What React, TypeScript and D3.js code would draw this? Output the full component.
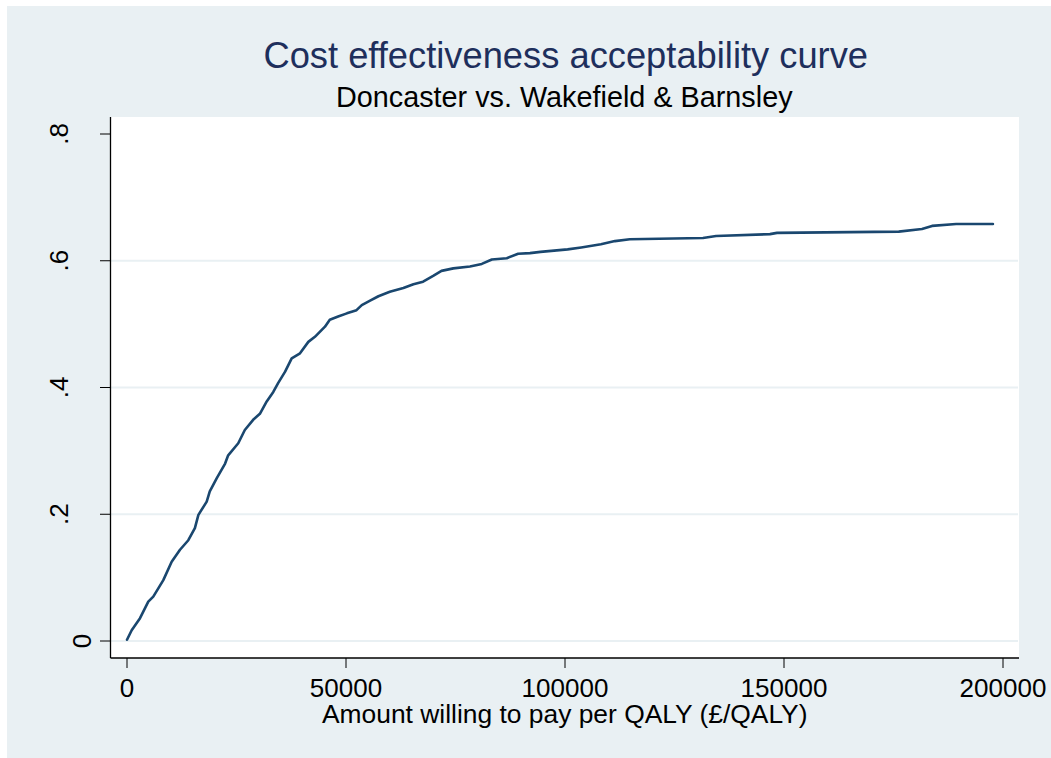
import React from "react";
import * as d3 from "d3";

// Willingness-to-pay thresholds (£/QALY) and probability cost-effective
const WTP = [
  0, 1070, 2970, 4860, 6000, 8290, 10200, 12100, 14000, 15500, 16300, 18200,
  18900, 20500, 22400, 23100, 25400, 26900, 28800, 30400, 31900, 33400, 34500,
  36100, 37600, 39500, 41400, 42900, 45200, 46300, 48200, 50200, 52400, 53600,
  55500, 57400, 60000, 63100, 65400, 67600, 69900, 71800, 74500, 78300, 81000,
  83300, 86700, 89300, 92000, 94400, 100600, 103700, 108200, 111400, 114800,
  131500, 134500, 146800, 148400, 176200, 181500, 183800, 189300, 197700,
];
const PROB = [
  0.002, 0.017, 0.036, 0.062, 0.07, 0.096, 0.125, 0.144, 0.159, 0.178, 0.199,
  0.22, 0.236, 0.257, 0.28, 0.293, 0.312, 0.333, 0.349, 0.359, 0.378, 0.393,
  0.407, 0.425, 0.446, 0.454, 0.472, 0.48, 0.496, 0.507, 0.512, 0.517, 0.522,
  0.53, 0.537, 0.544, 0.551, 0.557, 0.563, 0.567, 0.576, 0.584, 0.588, 0.591,
  0.595, 0.602, 0.604, 0.611, 0.612, 0.614, 0.618, 0.621, 0.626, 0.631, 0.634,
  0.636, 0.639, 0.642, 0.644, 0.646, 0.65, 0.655, 0.658, 0.658,
];
const X_TICKS = [0, 50000, 100000, 150000, 200000];
const Y_TICKS = [0, 0.2, 0.4, 0.6, 0.8];
const Y_TICK_LABELS = ["0", ".2", ".4", ".6", ".8"];
const GRID_VALUES = [0, 0.2, 0.4, 0.6];

const TITLE = "Cost effectiveness acceptability curve";
const SUBTITLE = "Doncaster vs. Wakefield & Barnsley";
const X_TITLE = "Amount willing to pay per QALY (£/QALY)";

const W = 1051;
const H = 758;
const BG = "#e9f0f3";
const FONT = "'Liberation Sans', Arial, Helvetica, sans-serif";

export default function App() {
  const plot = { left: 110.5, right: 1019, top: 117, bottom: 658 };
  const x = d3.scaleLinear().domain([0, 200000]).range([127, 1003]);
  const y = d3.scaleLinear().domain([0, 0.8]).range([641, 134]);
  const data = WTP.map((w, i) => [w, PROB[i]] as [number, number]);
  const line = d3
    .line<[number, number]>()
    .x((d) => x(d[0]))
    .y((d) => y(d[1]));
  const cx = (plot.left + plot.right) / 2;

  return (
    <svg
      width={W}
      height={H}
      style={{ position: "absolute", left: 0, top: 0, display: "block" }}
      fontFamily={FONT}
    >
      <rect x={0} y={0} width={W} height={H} fill="#ffffff" />
      <rect x={7} y={6} width={W - 7} height={H - 6} fill={BG} />
      <rect
        x={plot.left}
        y={plot.top}
        width={plot.right - plot.left}
        height={plot.bottom - plot.top}
        fill="#ffffff"
      />
      {GRID_VALUES.map((v) => (
        <line
          key={"g" + v}
          x1={plot.left}
          x2={plot.right - 1}
          y1={y(v)}
          y2={y(v)}
          stroke={BG}
          strokeWidth={2}
        />
      ))}
      <path
        d={line(data) || ""}
        fill="none"
        stroke="#1a476f"
        strokeWidth={2.6}
        strokeLinejoin="round"
        strokeLinecap="round"
      />
      {/* axes */}
      <line x1={plot.left} x2={plot.left} y1={plot.top} y2={plot.bottom} stroke="#000" strokeWidth={1.3} />
      <line x1={plot.left} x2={plot.right} y1={plot.bottom} y2={plot.bottom} stroke="#000" strokeWidth={1.3} />
      {Y_TICKS.map((v, i) => (
        <g key={"y" + v}>
          <line x1={100} x2={plot.left} y1={y(v)} y2={y(v)} stroke="#000" strokeWidth={1} />
          <text
            transform={`translate(${Y_TICK_LABELS[i] === "0" ? 91 : 68},${y(v)}) rotate(-90)`}
            textAnchor="middle"
            fontSize={26}
            fill="#000"
          >
            {Y_TICK_LABELS[i]}
          </text>
        </g>
      ))}
      {X_TICKS.map((v) => (
        <g key={"x" + v}>
          <line x1={x(v)} x2={x(v)} y1={plot.bottom} y2={plot.bottom + 10} stroke="#000" strokeWidth={1} />
          <text x={x(v)} y={697} textAnchor="middle" fontSize={26} fill="#000">
            {String(v)}
          </text>
        </g>
      ))}
      <text x={cx} y={723} textAnchor="middle" fontSize={26.4} fill="#000">
        {X_TITLE}
      </text>
      <text x={cx + 1} y={68} textAnchor="middle" fontSize={36.3} fill="#1e2f5c">
        {TITLE}
      </text>
      <text x={cx - 0.5} y={107} textAnchor="middle" fontSize={28.8} fill="#000">
        {SUBTITLE}
      </text>
    </svg>
  );
}
